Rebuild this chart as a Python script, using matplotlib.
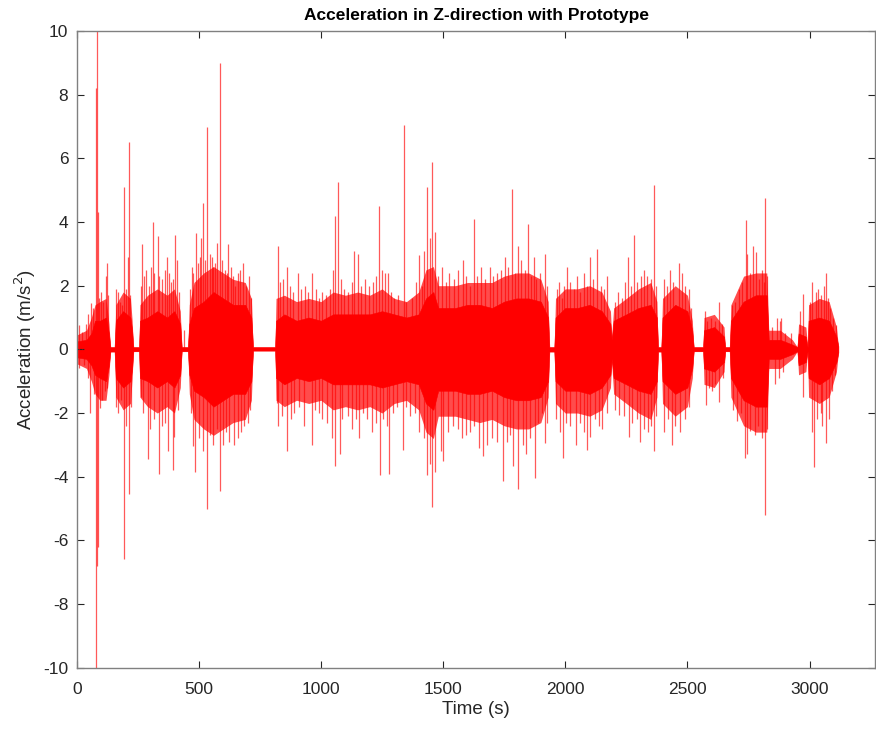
import matplotlib
matplotlib.use("Agg")
import matplotlib.pyplot as plt

plt.rcParams['font.family'] = ['Liberation Sans', 'DejaVu Sans']
plt.rcParams['axes.unicode_minus'] = False

# Dense-core envelope of the signal (time in s, core amplitude)
env_t = [0, 40, 60, 75, 95, 120, 132, 138, 155, 160, 190, 220, 227, 232, 255, 259, 290, 330, 370, 400, 424,
         430, 455, 461, 480, 520, 560, 600, 640, 690, 715, 722, 812, 816, 850, 900, 950, 1000, 1050, 1100,
         1150, 1200, 1250, 1300, 1350, 1400, 1430, 1460, 1480, 1550, 1600, 1650, 1700, 1750, 1800, 1850,
         1900, 1930, 1935, 1955, 1960, 2000, 2050, 2100, 2150, 2185, 2190, 2198, 2250, 2300, 2350, 2375,
         2380, 2393, 2398, 2450, 2500, 2520, 2526, 2564, 2568, 2610, 2650, 2655, 2673, 2678, 2730, 2780,
         2825, 2833, 2880, 2930, 2950, 2955, 2985, 2992, 2996, 3040, 3080, 3110, 3118]
env_hi = [0.25, 0.3, 0.5, 0.9, 0.9, 1.0, 0.5, 0.07, 0.07, 0.9, 1.2, 1.0, 0.6, 0.07, 0.07, 0.9, 1.0, 1.2,
          1.0, 1.2, 0.8, 0.07, 0.07, 0.8, 1.3, 1.5, 1.8, 1.6, 1.4, 1.4, 1.0, 0.07, 0.07, 0.9, 1.1, 0.9,
          1.0, 0.9, 1.1, 1.1, 1.1, 1.1, 1.2, 1.1, 1.0, 1.1, 1.6, 1.8, 1.3, 1.3, 1.4, 1.4, 1.3, 1.5, 1.6,
          1.6, 1.5, 1.0, 0.07, 0.07, 1.0, 1.3, 1.3, 1.4, 1.2, 0.8, 0.3, 0.9, 1.1, 1.3, 1.4, 1.0, 0.07,
          0.07, 1.0, 1.4, 1.2, 0.6, 0.07, 0.07, 0.6, 0.7, 0.4, 0.07, 0.07, 0.9, 1.5, 1.7, 1.7, 0.3, 0.3,
          0.15, 0.07, 0.5, 0.4, 0.07, 0.9, 1.0, 0.9, 0.4, 0.1]
env_lo = [-0.25, -0.3, -0.5, -0.8, -0.9, -1.0, -0.5, -0.07, -0.07, -0.9, -1.2, -1.0, -0.6, -0.06, -0.06,
          -0.9, -1.0, -1.2, -1.0, -1.2, -0.8, -0.06, -0.06, -0.8, -1.3, -1.5, -1.8, -1.6, -1.4, -1.4, -1.0,
          -0.04, -0.04, -0.9, -1.1, -0.9, -1.0, -0.9, -1.1, -1.1, -1.1, -1.1, -1.2, -1.1, -1.0, -1.1, -1.7,
          -1.9, -1.3, -1.3, -1.4, -1.4, -1.3, -1.5, -1.6, -1.6, -1.5, -1.0, -0.07, -0.07, -1.0, -1.3, -1.3,
          -1.4, -1.2, -0.8, -0.3, -0.9, -1.1, -1.3, -1.4, -1.0, -0.07, -0.07, -1.0, -1.4, -1.2, -0.6,
          -0.06, -0.06, -0.6, -0.7, -0.4, -0.06, -0.06, -0.9, -1.6, -1.8, -1.8, -0.3, -0.3, -0.15, -0.06,
          -0.5, -0.4, -0.06, -0.9, -1.1, -0.9, -0.4, -0.1]
# Extent of the thinner fringe of overlapping lines around the core
out_hi = [0.45, 0.6, 1.0, 1.4, 1.5, 1.6, 0.8, 0.07, 0.07, 1.4, 1.8, 1.6, 0.9, 0.07, 0.07, 1.4, 1.7, 1.9,
          1.7, 1.9, 1.2, 0.07, 0.07, 1.4, 2.1, 2.4, 2.6, 2.4, 2.2, 2.1, 1.6, 0.07, 0.07, 1.6, 1.7, 1.5,
          1.6, 1.5, 1.8, 1.7, 1.8, 1.7, 1.9, 1.6, 1.5, 1.8, 2.5, 2.6, 2.0, 2.0, 2.1, 2.1, 2.1, 2.3, 2.4,
          2.4, 2.2, 1.5, 0.07, 0.07, 1.6, 1.9, 1.9, 2.0, 1.8, 1.2, 0.4, 1.3, 1.6, 1.9, 2.1, 1.5, 0.07,
          0.07, 1.6, 2.0, 1.7, 0.9, 0.07, 0.07, 1.0, 1.1, 0.7, 0.07, 0.07, 1.4, 2.3, 2.4, 2.4, 0.6, 0.6,
          0.3, 0.07, 0.8, 0.7, 0.07, 1.4, 1.6, 1.5, 0.7, 0.1]
out_lo = [-0.45, -0.6, -1.0, -1.4, -1.6, -1.6, -0.8, -0.07, -0.07, -1.5, -1.9, -1.7, -0.9, -0.06, -0.06,
          -1.5, -1.8, -2.0, -1.8, -2.0, -1.2, -0.06, -0.06, -1.4, -2.2, -2.5, -2.7, -2.5, -2.3, -2.2, -1.6,
          -0.04, -0.04, -1.6, -1.8, -1.6, -1.7, -1.6, -1.9, -1.8, -1.9, -1.8, -2.0, -1.7, -1.6, -1.9, -2.6,
          -2.8, -2.1, -2.1, -2.2, -2.3, -2.2, -2.4, -2.5, -2.5, -2.3, -1.5, -0.07, -0.07, -1.7, -2.0, -2.0,
          -2.1, -1.9, -1.2, -0.4, -1.4, -1.7, -2.0, -2.2, -1.5, -0.07, -0.07, -1.7, -2.1, -1.8, -0.9,
          -0.06, -0.06, -1.1, -1.2, -0.7, -0.06, -0.06, -1.5, -2.4, -2.6, -2.6, -0.6, -0.6, -0.3, -0.06,
          -0.8, -0.7, -0.06, -1.5, -1.7, -1.5, -0.7, -0.1]

# Individual spikes (time, acceleration)
up_t = [8, 22, 40, 48, 58, 66, 80, 84, 87, 92, 100, 108, 118, 124, 130, 160, 168, 176, 185, 194, 202, 208,
        214, 220, 262, 268, 276, 285, 296, 304, 311, 318, 331, 338, 348, 360, 368, 376, 385, 395, 404, 410,
        418, 440, 465, 472, 478, 487, 495, 503, 510, 517, 527, 534, 545, 552, 560, 568, 576, 587, 596, 606,
        614, 621, 630, 640, 650, 660, 670, 682, 695, 706, 714, 823, 832, 845, 860, 872, 885, 905, 918, 935,
        948, 962, 978, 992, 1005, 1020, 1035, 1050, 1059, 1070, 1080, 1095, 1110, 1125, 1137, 1150, 1165,
        1180, 1195, 1212, 1225, 1237, 1250, 1262, 1275, 1288, 1300, 1315, 1338, 1350, 1372, 1390, 1400,
        1412, 1422, 1434, 1445, 1456, 1466, 1480, 1495, 1510, 1525, 1545, 1560, 1580, 1595, 1610, 1628,
        1640, 1655, 1670, 1690, 1705, 1720, 1735, 1752, 1765, 1783, 1795, 1805, 1820, 1835, 1847, 1860,
        1870, 1882, 1895, 1918, 1925, 1965, 1975, 1985, 1995, 2008, 2020, 2035, 2048, 2060, 2075, 2090,
        2102, 2115, 2131, 2145, 2160, 2172, 2202, 2215, 2232, 2245, 2258, 2270, 2283, 2295, 2310, 2322,
        2335, 2350, 2364, 2372, 2405, 2415, 2430, 2443, 2465, 2478, 2490, 2505, 2515, 2572, 2582, 2598,
        2612, 2628, 2640, 2682, 2695, 2712, 2725, 2738, 2745, 2755, 2768, 2780, 2792, 2805, 2812, 2819,
        2826, 2846, 2866, 2878, 2885, 2900, 2925, 2960, 2975, 3003, 3011, 3025, 3036, 3048, 3060, 3066,
        3075, 3085, 3095, 3108]
up_v = [0.75, 0.55, 0.8, 1.1, 1.45, 1.3, 8.2, 10.5, 4.3, 1.6, 1.8, 1.5, 2.3, 2.7, 1.7, 1.9, 1.8, 1.5, 1.4,
        5.1, 1.9, 2.9, 6.5, 1.7, 2.0, 3.3, 2.3, 2.5, 2.0, 2.6, 4.0, 2.4, 3.55, 2.3, 2.2, 2.5, 2.9, 2.4, 2.1,
        2.2, 3.6, 2.8, 1.8, 0.6, 1.9, 2.6, 2.4, 3.65, 2.7, 2.9, 3.5, 4.6, 2.8, 7.0, 3.0, 2.9, 2.6, 2.7, 3.35,
        9.0, 2.8, 2.5, 2.4, 3.3, 2.6, 2.3, 2.0, 2.4, 2.5, 2.7, 2.0, 2.3, 1.6, 3.25, 2.1, 2.2, 2.6, 2.0, 1.8,
        2.4, 1.9, 2.0, 1.8, 2.4, 1.9, 1.6, 1.8, 1.7, 1.9, 2.5, 4.2, 5.25, 2.2, 1.9, 1.8, 2.1, 3.1, 3.0, 2.0,
        2.2, 2.0, 2.1, 2.3, 4.5, 2.5, 2.4, 2.4, 1.8, 1.6, 1.7, 7.05, 1.5, 1.6, 2.1, 2.95, 2.0, 3.1, 5.1, 3.5,
        5.9, 3.7, 2.3, 2.6, 2.1, 2.4, 2.2, 2.5, 2.8, 2.3, 2.0, 4.1, 2.3, 2.6, 2.2, 2.6, 2.3, 2.4, 2.5, 2.9,
        2.6, 5.05, 2.4, 3.25, 2.8, 2.5, 3.95, 2.3, 2.9, 2.2, 2.4, 3.0, 2.0, 1.9, 2.1, 1.6, 2.0, 2.6, 2.1,
        1.9, 2.3, 1.8, 2.4, 2.0, 2.9, 2.2, 3.15, 2.0, 1.9, 2.3, 1.5, 1.8, 1.6, 2.1, 2.9, 2.0, 3.6, 2.1, 2.3,
        2.5, 2.3, 2.2, 5.17, 2.0, 2.2, 2.0, 2.5, 2.1, 2.7, 2.4, 2.0, 1.9, 1.3, 1.2, 0.9, 1.0, 0.9, 1.5, 0.8,
        1.4, 1.5, 1.9, 2.1, 4.05, 3.0, 2.4, 3.25, 3.05, 2.2, 2.5, 2.1, 4.75, 2.3, 0.7, 1.0, 0.9, 1.0, 0.5,
        0.5, 1.2, 1.75, 1.5, 2.1, 1.8, 1.9, 1.7, 2.0, 2.4, 1.6, 1.3, 1.0, 0.75]
dn_t = [10, 30, 45, 55, 70, 79, 82, 87, 95, 105, 116, 125, 162, 170, 182, 195, 200, 214, 222, 262, 272, 292,
        300, 318, 338, 350, 362, 375, 393, 400, 415, 468, 478, 486, 500, 515, 532, 545, 560, 575, 587, 600,
        612, 625, 645, 660, 673, 685, 700, 710, 818, 824, 840, 862, 877, 890, 910, 932, 962, 975, 990, 1005,
        1025, 1045, 1057, 1076, 1088, 1110, 1128, 1145, 1155, 1170, 1190, 1210, 1225, 1240, 1255, 1270,
        1280, 1295, 1310, 1335, 1348, 1365, 1385, 1400, 1420, 1434, 1448, 1456, 1468, 1490, 1500, 1520,
        1540, 1560, 1578, 1595, 1610, 1628, 1645, 1662, 1680, 1700, 1722, 1744, 1760, 1772, 1787, 1807,
        1825, 1840, 1855, 1877, 1890, 1905, 1918, 1925, 1962, 1978, 1991, 2005, 2020, 2045, 2060, 2075,
        2087, 2102, 2120, 2138, 2150, 2170, 2205, 2218, 2240, 2262, 2275, 2292, 2306, 2322, 2338, 2350,
        2364, 2372, 2405, 2420, 2437, 2450, 2470, 2490, 2505, 2575, 2590, 2600, 2615, 2628, 2645, 2685,
        2703, 2720, 2735, 2745, 2756, 2775, 2790, 2805, 2819, 2826, 2860, 2875, 2890, 2973, 3010, 3019,
        3030, 3045, 3052, 3066, 3080, 3090, 3105]
dn_v = [-0.6, -0.5, -0.9, -2.0, -1.4, -10.5, -6.8, -6.2, -1.85, -1.6, -1.3, -1.2, -1.8, -2.0, -1.6, -6.6,
        -2.4, -4.55, -1.8, -1.5, -2.0, -3.45, -2.5, -2.2, -3.9, -2.4, -2.3, -3.2, -3.8, -2.75, -1.9, -2.0,
        -3.05, -3.85, -2.8, -3.2, -5.0, -2.7, -3.0, -2.5, -4.45, -3.0, -2.6, -2.9, -3.0, -2.8, -2.6, -2.4,
        -2.3, -1.9, -1.7, -2.4, -2.1, -3.2, -2.2, -2.0, -1.8, -2.4, -3.0, -1.9, -2.0, -2.2, -2.3, -2.8,
        -3.65, -3.3, -2.2, -2.1, -2.5, -2.2, -2.8, -2.0, -2.2, -2.6, -2.3, -3.95, -2.2, -2.4, -3.9, -2.0,
        -1.8, -3.15, -1.8, -2.1, -2.0, -2.6, -2.8, -3.95, -3.6, -4.95, -3.85, -3.2, -3.5, -2.6, -2.4, -2.5,
        -2.8, -2.7, -2.6, -2.4, -3.1, -3.35, -3.0, -2.8, -2.9, -4.15, -2.9, -2.7, -3.65, -4.4, -3.0, -3.3,
        -2.8, -4.05, -2.3, -2.0, -2.95, -2.3, -2.2, -2.6, -3.4, -2.3, -2.4, -3.0, -2.3, -2.6, -3.15, -2.75,
        -2.2, -2.4, -2.5, -2.0, -1.9, -2.05, -2.1, -2.75, -2.3, -2.2, -2.9, -2.5, -2.6, -2.4, -3.2, -2.1,
        -2.6, -2.2, -3.0, -2.4, -2.6, -2.2, -1.8, -1.75, -1.2, -1.3, -1.1, -1.65, -0.9, -1.9, -2.25, -2.0,
        -3.4, -3.3, -2.55, -2.7, -2.4, -2.8, -5.2, -2.5, -1.1, -0.9, -0.7, -1.5, -2.6, -3.7, -2.2, -2.0,
        -2.4, -2.95, -2.2, -1.3, -0.8]

xticks = [0, 500, 1000, 1500, 2000, 2500, 3000]
yticks = [-10, -8, -6, -4, -2, 0, 2, 4, 6, 8, 10]

fig = plt.figure(figsize=(8.76, 7.29), dpi=100)
ax = fig.add_axes([76.7 / 876, 1 - 667.7 / 729, (875.5 - 76.7) / 876, (667.7 - 31) / 729])

ax.fill_between(env_t, out_lo, out_hi, color='#ff0000', lw=0, alpha=0.7)
ax.fill_between(env_t, env_lo, env_hi, color='#ff0000', lw=0.4, edgecolor='#ff0000')
ax.vlines(up_t, 0, up_v, color='#ff0000', lw=0.9, alpha=0.65)
ax.vlines(dn_t, 0, dn_v, color='#ff0000', lw=0.9, alpha=0.65)

ax.set_xlim(0, 3270)
ax.set_ylim(-10, 10)
ax.set_xticks(xticks)
ax.set_yticks(yticks)
ax.tick_params(direction='in', top=True, right=True, length=5, width=0.8,
               colors='#262626', labelsize=12.5)
ax.tick_params(axis='x', pad=10)
ax.tick_params(axis='y', pad=6)
for sp in ax.spines.values():
    sp.set_color('#808080')
    sp.set_linewidth(1.0)

ax.set_title('Acceleration in Z-direction with Prototype', fontsize=12.5, fontweight='bold', pad=8)
ax.set_xlabel('Time (s)', fontsize=13.5, color='#262626', labelpad=3)
ax.set_ylabel('Acceleration (m/s$^2$)', fontsize=13.5, color='#262626', labelpad=4)

fig.savefig('out.png', dpi=100)
